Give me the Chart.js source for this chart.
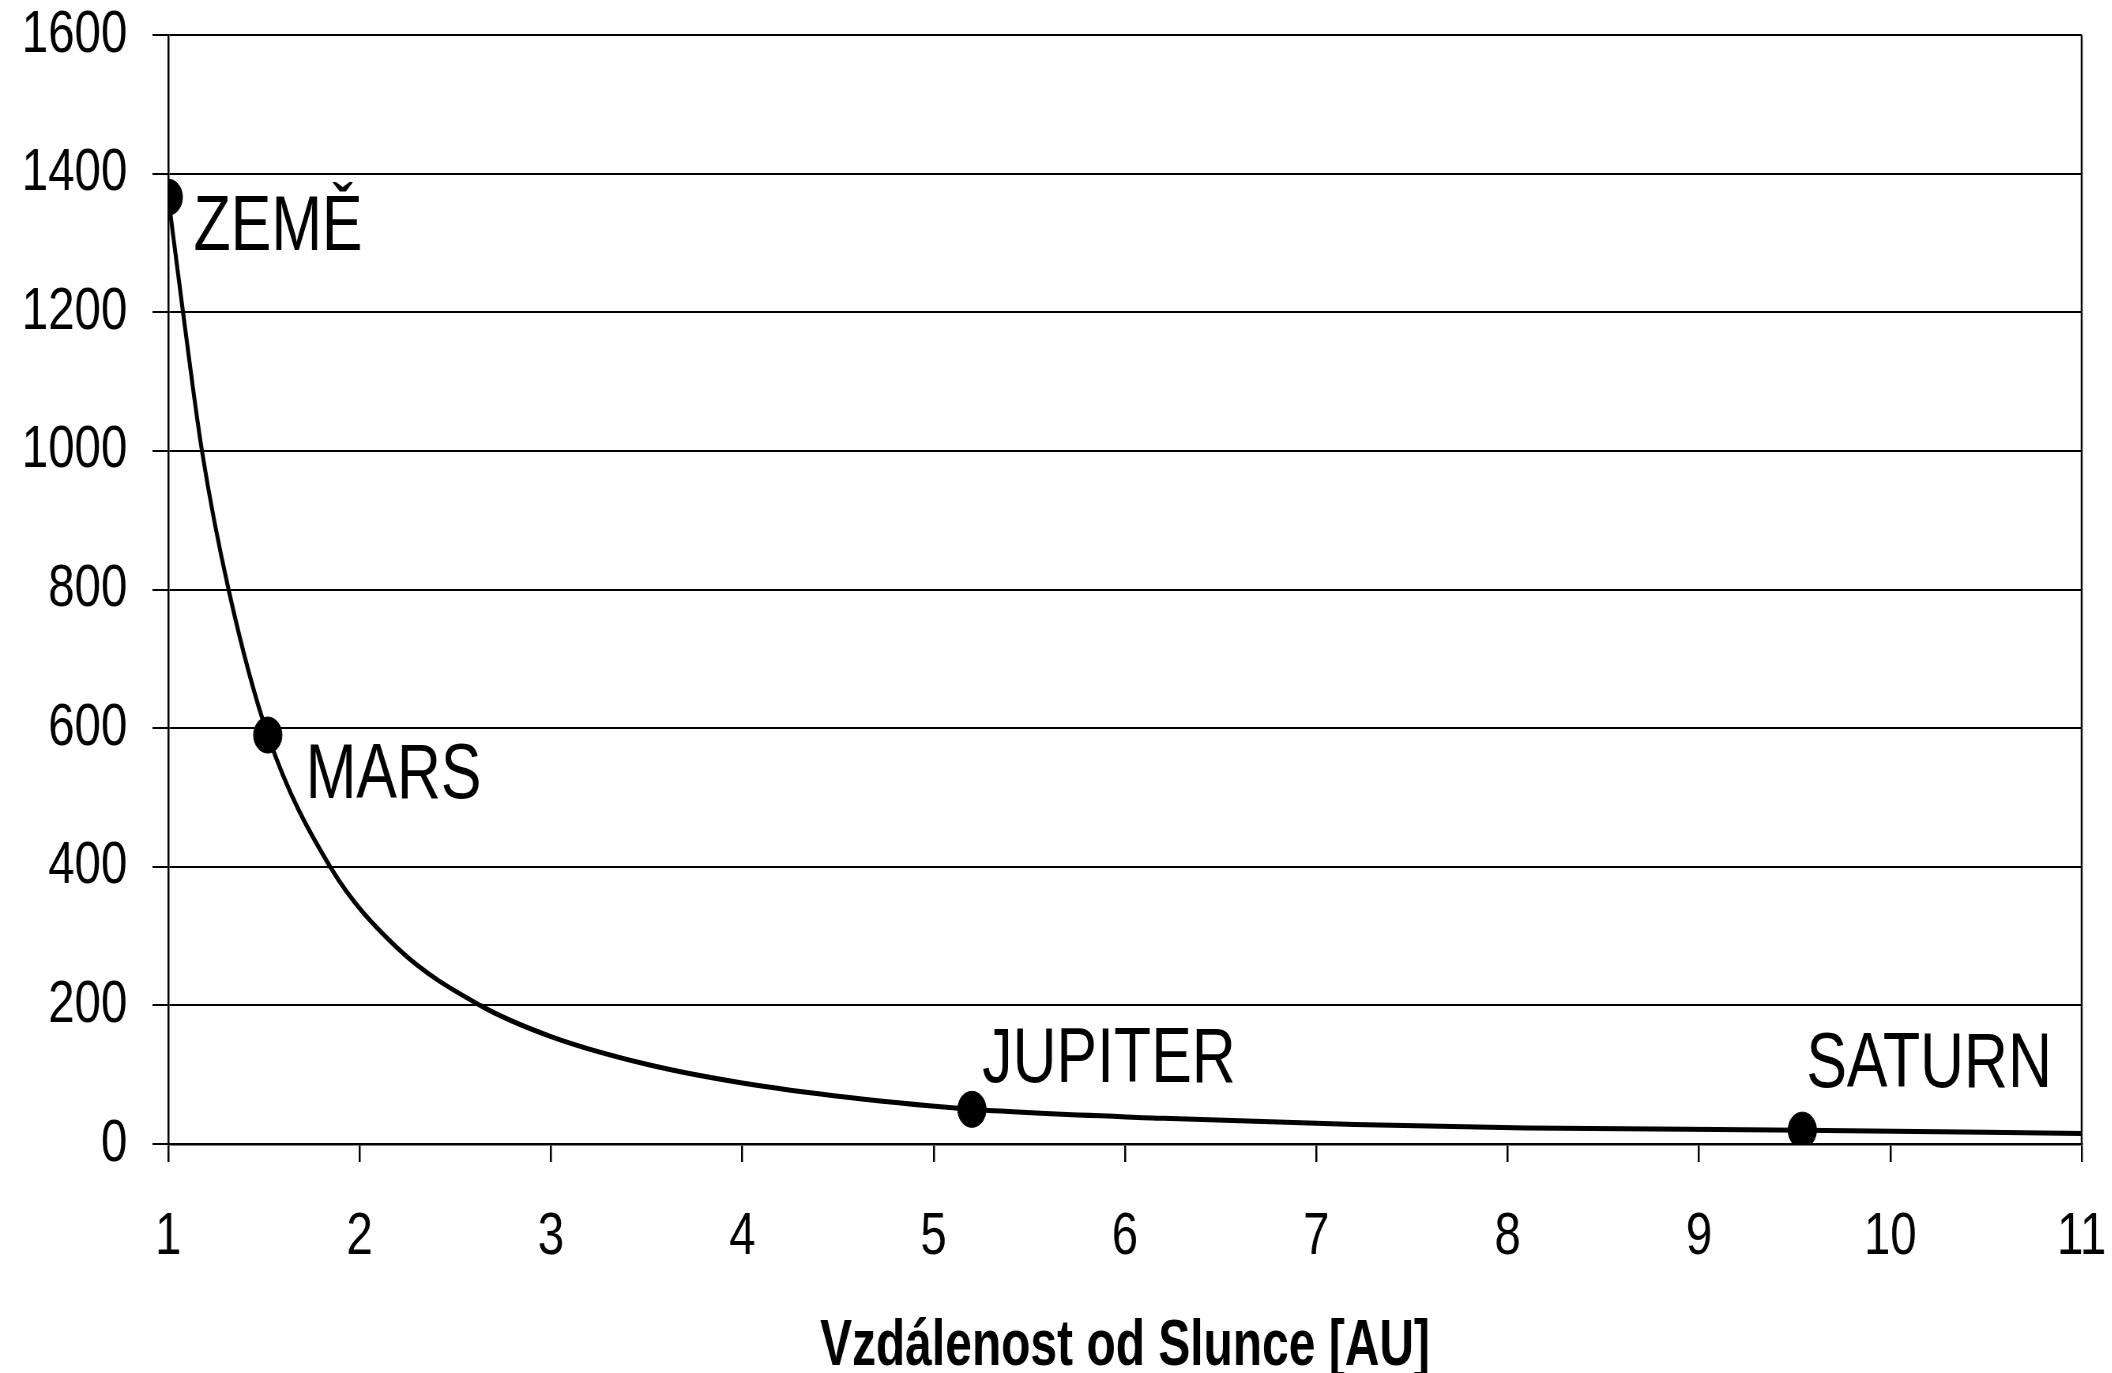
<!DOCTYPE html>
<html>
<head>
<meta charset="utf-8">
<script src="https://cdn.jsdelivr.net/npm/chart.js@4"></script>
<style>
  html, body { margin: 0; padding: 0; overflow: hidden; background: #fff; }
  /* the original picture is squeezed sideways, so draw wider and squeeze */
  #wrap { width: 2673px; height: 1373px; transform: scaleX(0.79); transform-origin: 0 0; }
</style>
</head>
<body>
<div id="wrap"><canvas id="myChart"></canvas></div>
<script>
// curve (distance in AU, W/m2)
var curveX = [1, 1.077, 1.176, 1.315, 1.52, 1.846, 2.2, 2.63, 3, 3.5, 4, 4.56, 5.2, 6.2, 7.2, 8.1, 9.54, 11];
var curveY = [1366, 1200, 1000, 800, 590, 400, 282, 200, 155, 115, 88, 67, 50, 37, 28, 23, 20, 15];

// planets
var planetNames = ['ZEMĚ', 'MARS', 'JUPITER', 'SATURN'];
var planetX = [1, 1.52, 5.2, 9.54];
var planetY = [1366, 590, 50, 20];

var xTicks = [1, 2, 3, 4, 5, 6, 7, 8, 9, 10, 11];
var yTicks = [0, 200, 400, 600, 800, 1000, 1200, 1400, 1600];
var xTitle = 'Vzdálenost od Slunce [AU]';

// label offsets from the marker (px)
var labelDx = [32, 48, 13, 5];
var labelDy = [53, 63, -27, -43];

var FONT = "'Liberation Sans', Arial, sans-serif";

var planetLabels = {
    id: 'planetLabels',
    afterDatasetsDraw: function(chart) {
        var ctx = chart.ctx;
        var meta = chart.getDatasetMeta(1);
        var a = chart.chartArea;
        ctx.save();
        ctx.fillStyle = '#000';
        ctx.font = '77px ' + FONT;
        ctx.textAlign = 'left';
        ctx.textBaseline = 'alphabetic';
        meta.data.forEach(function(pt, i) {
            ctx.fillText(planetNames[i], pt.x + labelDx[i], pt.y + labelDy[i]);
        });
        // right border of the plot
        ctx.strokeStyle = '#000';
        ctx.lineWidth = 2.5;
        ctx.beginPath();
        ctx.moveTo(a.right, a.top);
        ctx.lineTo(a.right, a.bottom);
        ctx.stroke();
        // axis title, a bit narrower than the plain bold font
        ctx.font = 'bold 65px ' + FONT;
        var sx = 772 / ctx.measureText(xTitle).width;
        ctx.translate((a.left + a.right) / 2, 1365);
        ctx.scale(sx, 1);
        ctx.textAlign = 'center';
        ctx.fillText(xTitle, 0, 0);
        ctx.restore();
    }
};

var ctx = document.getElementById('myChart').getContext('2d');
var myChart = new Chart(ctx, {
    type: 'scatter',
    data: {
        datasets: [{
            label: 'krivka',
            data: curveX.map(function(x, i) { return { x: x, y: curveY[i] }; }),
            showLine: true,
            borderColor: '#000',
            borderWidth: 5,
            pointRadius: 0,
            cubicInterpolationMode: 'monotone'
        }, {
            label: 'planety',
            data: planetX.map(function(x, i) { return { x: x, y: planetY[i] }; }),
            showLine: false,
            pointRadius: 18,
            pointBackgroundColor: '#000',
            pointBorderColor: '#000'
        }]
    },
    options: {
        responsive: true,
        maintainAspectRatio: false,
        animation: false,
        layout: { padding: { top: 35, right: 38, bottom: 0, left: 0 } },
        plugins: {
            legend: { display: false },
            tooltip: { enabled: false }
        },
        scales: {
            x: {
                type: 'linear',
                min: 1,
                max: 11,
                afterBuildTicks: function(s) { s.ticks = xTicks.map(function(v) { return { value: v }; }); },
                afterFit: function(s) {
                    s.height = 229;
                    s.paddingLeft = 0;
                    s.paddingRight = 0;
                },
                grid: { drawOnChartArea: false, color: '#000', lineWidth: 2.5, tickLength: 18 },
                border: { color: '#000', width: 2.5 },
                ticks: { color: '#000', font: { family: FONT, size: 60 }, padding: 39, maxRotation: 0,
                    callback: function(v) { return String(v); } }
            },
            y: {
                min: 0,
                max: 1600,
                afterBuildTicks: function(s) { s.ticks = yTicks.map(function(v) { return { value: v }; }); },
                afterFit: function(s) {
                    s.width = 213;
                    s.paddingTop = 0;
                    s.paddingBottom = 0;
                },
                grid: { color: '#000', lineWidth: 2, tickLength: 20 },
                border: { color: '#000', width: 2.5 },
                ticks: { color: '#000', font: { family: FONT, size: 60 }, padding: 32,
                    callback: function(v) { return String(v); } }
            }
        }
    },
    plugins: [planetLabels]
});
</script>
</body>
</html>
